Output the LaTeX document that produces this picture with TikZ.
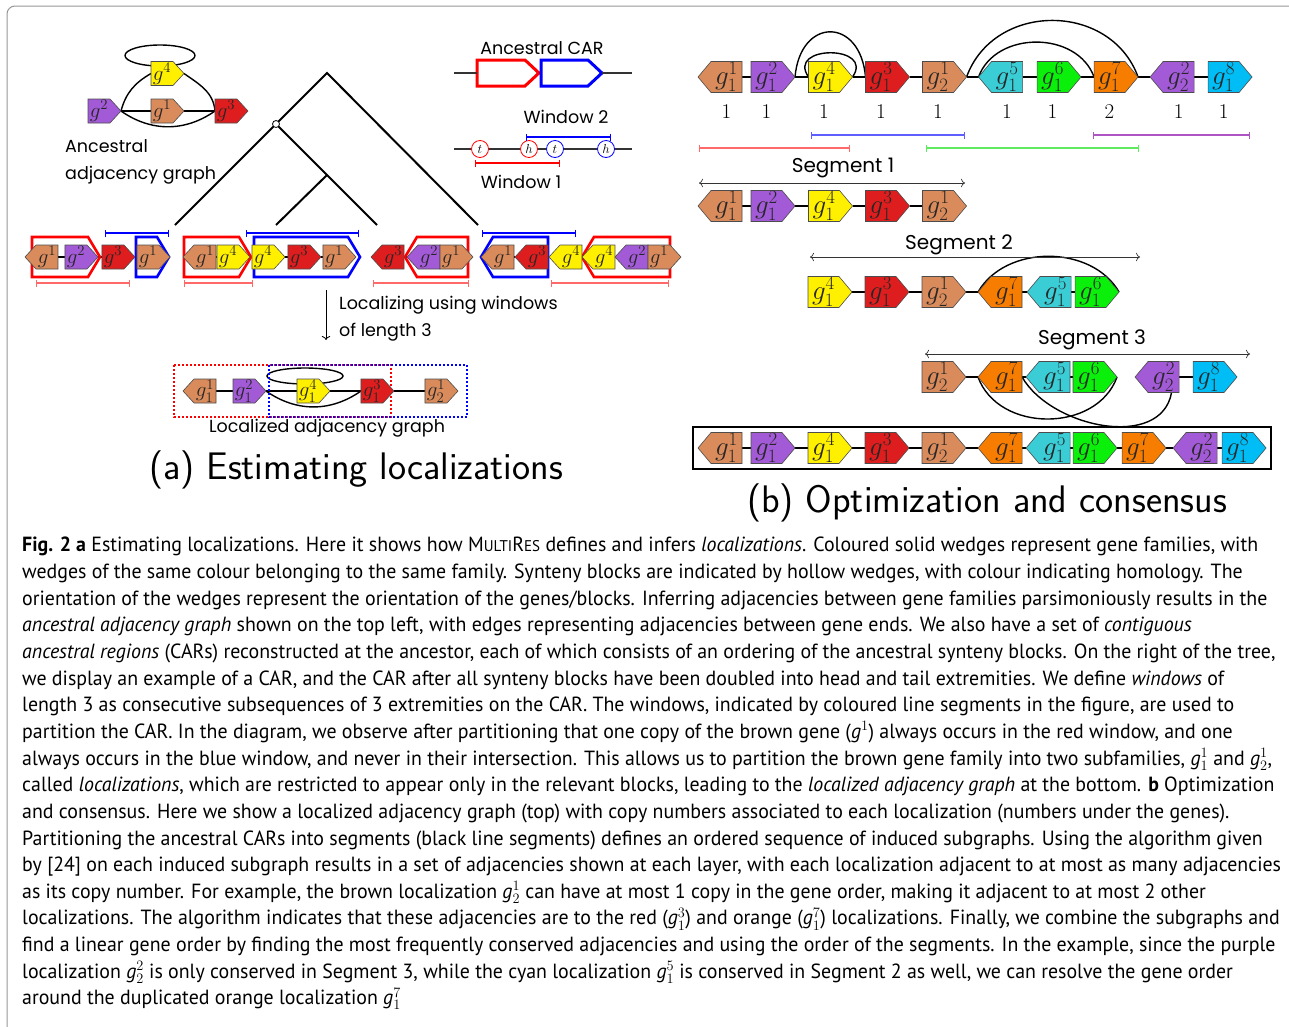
\RequirePackage{fix-cm}
\documentclass[tikz,border=0pt]{standalone}
\usepackage{fontspec}
\usepackage{tikz}
\usetikzlibrary{positioning, arrows.meta, fit, backgrounds, shapes.symbols, calc}

\newfontfamily\diagfont{Poppins}
\newfontfamily\capfont{PT Sans}[FakeStretch=0.97]

\definecolor{gbrown}{RGB}{217,139,92}
\definecolor{gpurple}{RGB}{163,90,214}
\definecolor{gred}{RGB}{222,30,30}
\definecolor{gyellow}{RGB}{255,240,0}
\definecolor{gcyan}{RGB}{58,205,214}
\definecolor{ggreen}{RGB}{10,240,10}
\definecolor{gorange}{RGB}{247,125,0}
\definecolor{gsky}{RGB}{0,190,245}
\definecolor{wred}{RGB}{255,105,105}
\definecolor{wblue}{RGB}{95,95,255}
\definecolor{wgreen}{RGB}{95,235,95}
\definecolor{wpurple}{RGB}{175,85,195}
\definecolor{framegray}{RGB}{150,150,150}

\begin{document}
\begin{tikzpicture}[
    x=1pt, y=-1pt,
    node distance=13pt,
    gene/.style={signal, signal to=#1, draw=black!70, line width=0.6pt, inner sep=0pt, outer sep=0pt, align=center, text=black!85},
    ga/.style={gene=#1, text width=22pt, minimum height=24pt, signal pointer angle=95, font=\fontsize{21}{21}\selectfont},
    gb/.style={gene=#1, text width=31pt, minimum height=31pt, signal pointer angle=100, font=\fontsize{27}{27}\selectfont},
    block/.style={signal, signal to=#1, inner sep=0pt, outer sep=0pt, line width=2.6pt, minimum height=40pt, signal pointer angle=118},
    carblock/.style={signal, signal to=east, fill=white, inner sep=0pt, outer sep=0pt, line width=3pt, minimum height=26pt, signal pointer angle=86},
    ext/.style={circle, draw=#1, fill=white, line width=0.8pt, minimum size=17pt, inner sep=0pt, font=\fontsize{13}{13}\selectfont},
    link/.style={line width=1.4pt},
    win/.style={arrows={Bar[width=7pt]-Bar[width=7pt]}, line width=1.1pt, draw=#1},
    seg/.style={arrows={To[length=4pt]-To[length=4pt]}, line width=0.7pt, draw=black!80},
    txt/.style={font=\diagfont\fontsize{17.5}{27}\selectfont, inner sep=0pt, align=left},
    segtxt/.style={font=\diagfont\fontsize{20}{20}\selectfont, inner sep=0pt},
    num/.style={font=\fontsize{21}{21}\selectfont, inner sep=0pt},
    branch/.style={line width=2pt},
    title/.style={font=\sffamily\fontsize{38.4}{38.4}\selectfont, inner sep=0pt},
]
\useasboundingbox (0,0) rectangle (1289,1026);
\draw[framegray, line width=1pt, rounded corners=8pt] (7,1200) -- (7,6) -- (1400,6);

% ancestral adjacency graph
\node[ga=east, fill=gyellow, anchor=west] (p4) at (151,73.5) {$g^4$};
\node[ga=east, fill=gpurple, anchor=west] (p2) at (88,111) {$g^2$};
\node[ga=east, fill=gbrown, anchor=west] (p1) at (151,111) {$g^1$};
\node[ga=east, fill=gred, anchor=west] (p3) at (215,111) {$g^3$};
\begin{scope}[on background layer]
\draw[link] (p4) ++(-2,-18) ellipse [x radius=35pt, y radius=10.5pt];
\draw[link] (p2.east) -- (p1.west) (p1.east) -- (p3.west);
\draw[link] (p2.east) to[out=75, in=-150] (p4.west);
\draw[link] (p4.east) to[out=-35, in=95] (p3.west);
\draw[link] (p2.east) to[out=-35, in=-145] (p3.west);
\end{scope}
\node[txt, anchor=west] (anclabel) at (65,161.5) {Ancestral\\adjacency graph};

% tree
\coordinate (root) at (327,73);
\coordinate (anc) at (276,124);
\coordinate (mid) at (327,175);
\coordinate (lf1) at (175,225);
\coordinate (lf2) at (276,225);
\coordinate (lf3) at (377,225);
\coordinate (lf4) at (478,225);
\draw[branch] (lf1) -- (anc) -- (root) -- (lf4);
\draw[branch] (anc) -- (mid) (mid) -- (lf2) (mid) -- (lf3);
\node[circle, draw, fill=white, inner sep=0pt, minimum size=7pt, line width=0.8pt] (ancdot) at (anc) {};

% ancestral CAR and windows
\node[txt] (cartitle) at (542,48) {Ancestral CAR};
\coordinate (carL) at (454,73);
\coordinate (carR) at (632,73);
\node[carblock, draw=red, text width=48pt, anchor=west] (carA) at (477,73) {};
\node[carblock, draw=blue, text width=47pt, anchor=west] (carB) at (541,73) {};
\draw[line width=1.2pt, black!80] (carL) -- (carA.west) (carB.east) -- (carR);
\node[ext=red] (xt1) at (480,149) {$t$};
\node[ext=red] (xh1) at (529,149) {$h$};
\node[ext=blue] (xt2) at (555,149) {$t$};
\node[ext=blue] (xh2) at (606,149) {$h$};
\coordinate (extL) at (454,149);
\coordinate (extR) at (632,149);
\begin{scope}[on background layer]
\draw[line width=1.2pt, black!80] (extL) -- (extR);
\end{scope}
\draw[win=blue] (526,137) -- (611,137);
\draw[win=red] (475,163) -- (560,163);
\node[txt] (win2) at (566,117) {Window 2};
\node[txt] (win1) at (521,182) {Window 1};

% leaf genomes: hollow blocks
\node[block=east, draw=red, text width=56pt, anchor=west] (r1) at (32,257) {};
\node[block=east, draw=blue, text width=21pt, anchor=west] (bl1) at (136,257) {};
\node[block=east, draw=red, text width=55pt, anchor=west] (r2) at (184,257) {};
\node[block=east, draw=blue, text width=94pt, anchor=west] (bl2) at (254,257) {};
\node[block=west, draw=red, text width=51pt, anchor=east] (r3) at (468,257) {};
\node[block=west, draw=blue, text width=55pt, anchor=east] (bl4) at (548,257) {};
\node[block=west, draw=red, text width=76pt, anchor=east] (r4) at (670,257) {};

% leaf genomes: genes
\node[ga=west, fill=gbrown, anchor=west] (l11) at (25,257) {$g^1$};
\node[ga=east, fill=gpurple, right=7pt of l11] (l12) {$g^2$};
\node[ga=east, fill=gred, right=4pt of l12] (l13) {$g^3$};
\node[ga=east, fill=gbrown, right=2pt of l13] (l14) {$g^1$};

\node[ga=west, fill=gbrown, anchor=west] (l21) at (183,257) {$g^1$};
\node[ga=east, fill=gyellow, right=1pt of l21] (l22) {$g^4$};
\node[ga=east, fill=gyellow, right=2pt of l22] (l23) {$g^4$};
\node[ga=east, fill=gred, right=3pt of l23] (l24) {$g^3$};
\node[ga=east, fill=gbrown, right=2pt of l24] (l25) {$g^1$};

\node[ga=west, fill=gred, anchor=west] (l31) at (371,257) {$g^3$};
\node[ga=west, fill=gpurple, right=3pt of l31] (l32) {$g^2$};
\node[ga=east, fill=gbrown, right=0pt of l32] (l33) {$g^1$};

\node[ga=west, fill=gbrown, anchor=west] (l41) at (481,257) {$g^1$};
\node[ga=west, fill=gred, right=1pt of l41] (l42) {$g^3$};
\node[ga=west, fill=gyellow, right=1pt of l42] (l43) {$g^4$};
\node[ga=west, fill=gyellow, right=0pt of l43] (l44) {$g^4$};
\node[ga=west, fill=gpurple, right=0pt of l44] (l45) {$g^2$};
\node[ga=east, fill=gbrown, right=0pt of l45] (l46) {$g^1$};

\begin{scope}[on background layer]
\foreach \a/\b in {l11/l12, l12/l13, l13/l14, l21/l22, l22/l23, l23/l24, l24/l25,
                   l31/l32, l32/l33, l41/l42, l42/l43, l43/l44, l44/l45, l45/l46}
  \draw[link] (\a.east) -- (\b.west);
\end{scope}

% windows on the leaves
\draw[win=wred] (36,283) -- (130,283);
\draw[win=blue] (105,233) -- (169,233);
\draw[win=wred] (184,283) -- (253,283);
\draw[win=blue] (246,233) -- (359,233);
\draw[win=wred] (373,283) -- (469,283);
\draw[win=blue] (482,233) -- (576,233);
\draw[win=wred] (551,283) -- (669,283);

% localizing step
\coordinate (locA) at (326,290);
\coordinate (locB) at (326,340);
\draw[-{To[length=4pt]}, line width=0.8pt] (locA) -- (locB);
\node[txt, anchor=west] (loctext) at (339,318.5) {Localizing using windows\\of length 3};

% localized adjacency graph
\draw[red, line width=2pt, dotted] (174,365) rectangle (391,417);
\draw[blue, line width=2pt, dotted] (269,365) rectangle (467,417);
\node[ga=west, fill=gbrown, anchor=west] (m1) at (183,391) {$g^1_1$};
\node[ga=east, fill=gpurple, right=17pt of m1] (m2) {$g^2_1$};
\node[ga=east, fill=gyellow, right=31pt of m2] (m3) {$g^4_1$};
\node[ga=east, fill=gred, right=31pt of m3] (m4) {$g^3_1$};
\node[ga=east, fill=gbrown, right=31pt of m4] (m5) {$g^1_2$};
\begin{scope}[on background layer]
\draw[link] (m1.east) -- (m2.west) (m2.east) -- (m3.west) (m3.east) -- (m4.west) (m4.east) -- (m5.west);
\draw[link] (m3) ++(-3,-15) ellipse [x radius=38pt, y radius=8pt];
\draw[link] (m2.east) to[out=-35, in=-145] (m4.west);
\end{scope}
\node[txt] (loclabel) at (327,428) {Localized adjacency graph};

\node[title] (titlea) at (356,470) {(a) Estimating localizations};

% (b) localized graph with copy numbers
\node[gb=west, fill=gbrown, anchor=west] (t1) at (698,77) {$g^1_1$};
\node[gb=east, fill=gpurple, right=9pt of t1] (t2) {$g^2_1$};
\node[gb=east, fill=gyellow, right=13.5pt of t2] (t3) {$g^4_1$};
\node[gb=east, fill=gred, right=13pt of t3] (t4) {$g^3_1$};
\node[gb=east, fill=gbrown, right=13pt of t4] (t5) {$g^1_2$};
\node[gb=west, fill=gcyan, right=12pt of t5] (t6) {$g^5_1$};
\node[gb=east, fill=ggreen, right=14.5pt of t6] (t7) {$g^6_1$};
\node[gb=east, fill=gorange, right=13pt of t7] (t8) {$g^7_1$};
\node[gb=west, fill=gpurple, right=12pt of t8] (t9) {$g^2_2$};
\node[gb=east, fill=gsky, right=14pt of t9] (t10) {$g^8_1$};
\foreach \g/\c in {t1/1, t2/1, t3/1, t4/1, t5/1, t6/1, t7/1, t8/2, t9/1, t10/1}
  \node[num] at ([yshift=-35]\g.center) {\c};
\begin{scope}[on background layer]
\foreach \a/\b in {t1/t2, t2/t3, t3/t4, t4/t5, t5/t6, t6/t7, t7/t8, t8/t9, t9/t10}
  \draw[link] (\a.east) -- (\b.west);
\draw[link] (t2.east) to[out=85, in=95, looseness=2.2] (t4.west);
\draw[link] (t3.west) to[out=125, in=55, looseness=2.3] (t3.east);
\draw[link] (t5.east) to[out=70, in=110, looseness=1.2] (t8.east);
\draw[link] (t6.west) to[out=70, in=110, looseness=1.1] (t8.west);
\end{scope}
\draw[win=wblue] (811,135) -- (965,135);
\draw[win=wred] (699,148) -- (850,148);
\draw[win=wgreen] (926,148) -- (1139,148);
\draw[win=wpurple] (1093,135) -- (1250,135);

% segment 1
\node[segtxt] (seg1) at (843,168) {Segment 1};
\draw[seg] (699,183) -- (965,183);
\node[gb=west, fill=gbrown, anchor=west] (a1) at (698,206) {$g^1_1$};
\node[gb=east, fill=gpurple, right=9pt of a1] (a2) {$g^2_1$};
\node[gb=east, fill=gyellow, right=13.5pt of a2] (a3) {$g^4_1$};
\node[gb=east, fill=gred, right=13pt of a3] (a4) {$g^3_1$};
\node[gb=east, fill=gbrown, right=13pt of a4] (a5) {$g^1_2$};
\begin{scope}[on background layer]
\foreach \a/\b in {a1/a2, a2/a3, a3/a4, a4/a5}
  \draw[link] (\a.east) -- (\b.west);
\end{scope}

% segment 2
\node[segtxt] (seg2) at (959,245) {Segment 2};
\draw[seg] (810,257) -- (1140,257);
\node[gb=east, fill=gyellow, anchor=west] (b1) at (808,292) {$g^4_1$};
\node[gb=east, fill=gred, right=13pt of b1] (b2) {$g^3_1$};
\node[gb=east, fill=gbrown, right=13pt of b2] (b3) {$g^1_2$};
\node[gb=west, fill=gorange, right=12pt of b3] (b4) {$g^7_1$};
\node[gb=west, fill=gcyan, right=5pt of b4] (b5) {$g^5_1$};
\node[gb=east, fill=ggreen, right=4pt of b5] (b6) {$g^6_1$};
\begin{scope}[on background layer]
\foreach \a/\b in {b1/b2, b2/b3, b3/b4, b4/b5, b5/b6}
  \draw[link] (\a.east) -- (\b.west);
\draw[link] (b4.west) to[out=60, in=120] (b6.east);
\end{scope}

% segment 3
\node[segtxt] (seg3) at (1092,340) {Segment 3};
\draw[seg] (925,354) -- (1250,354);
\node[gb=east, fill=gbrown, anchor=west] (c1) at (922,377) {$g^1_2$};
\node[gb=west, fill=gorange, right=12pt of c1] (c2) {$g^7_1$};
\node[gb=west, fill=gcyan, right=4pt of c2] (c3) {$g^5_1$};
\node[gb=east, fill=ggreen, right=3pt of c3] (c4) {$g^6_1$};
\node[gb=west, fill=gpurple, right=18pt of c4] (c5) {$g^2_2$};
\node[gb=east, fill=gsky, right=14pt of c5] (c6) {$g^8_1$};
\begin{scope}[on background layer]
\foreach \a/\b in {c1/c2, c2/c3, c3/c4, c5/c6}
  \draw[link] (\a.east) -- (\b.west);
\draw[link] (c2.west) to[out=-70, in=-110, looseness=1.1] (c4.east);
\draw[link] (c2.east) to[out=-60, in=-100] ([xshift=8]c5.south);
\end{scope}

% consensus order
\node[gb=west, fill=gbrown, anchor=west] (d1) at (698,448) {$g^1_1$};
\node[gb=east, fill=gpurple, right=9pt of d1] (d2) {$g^2_1$};
\node[gb=east, fill=gyellow, right=13pt of d2] (d3) {$g^4_1$};
\node[gb=east, fill=gred, right=13pt of d3] (d4) {$g^3_1$};
\node[gb=east, fill=gbrown, right=13pt of d4] (d5) {$g^1_2$};
\node[gb=west, fill=gorange, right=12pt of d5] (d6) {$g^7_1$};
\node[gb=west, fill=gcyan, right=4pt of d6] (d7) {$g^5_1$};
\node[gb=east, fill=ggreen, right=3pt of d7] (d8) {$g^6_1$};
\node[gb=east, fill=gorange, right=5pt of d8] (d9) {$g^7_1$};
\node[gb=west, fill=gpurple, right=7pt of d9] (d10) {$g^2_2$};
\node[gb=east, fill=gsky, right=5pt of d10] (d11) {$g^8_1$};
\begin{scope}[on background layer]
\foreach \a/\b in {d1/d2, d2/d3, d3/d4, d4/d5, d5/d6, d6/d7, d7/d8, d8/d9, d9/d10, d10/d11}
  \draw[link] (\a.east) -- (\b.west);
\end{scope}
\node[draw, line width=2.5pt, fit=(d1)(d11), inner xsep=5pt, inner ysep=5.5pt] (consensus) {};

\node[title] (titleb) at (987,503) {(b) Optimization and consensus};

% caption
\node[anchor=north west, inner sep=0pt, align=left, font=\capfont\fontsize{20.5}{26.65}\selectfont] (caption) at (22,537) {%
\textbf{Fig. 2 a} Estimating localizations. Here it shows how M{\fontsize{15.5}{15}\selectfont ULTI}R{\fontsize{15.5}{15}\selectfont ES} defines and infers \textit{localizations}. Coloured solid wedges represent gene families, with\\
wedges of the same colour belonging to the same family. Synteny blocks are indicated by hollow wedges, with colour indicating homology. The\\
orientation of the wedges represent the orientation of the genes/blocks. Inferring adjacencies between gene families parsimoniously results in the\\
\textit{ancestral adjacency graph} shown on the top left, with edges representing adjacencies between gene ends. We also have a set of \textit{contiguous}\\
\textit{ancestral regions} (CARs) reconstructed at the ancestor, each of which consists of an ordering of the ancestral synteny blocks. On the right of the tree,\\
we display an example of a CAR, and the CAR after all synteny blocks have been doubled into head and tail extremities. We define \textit{windows} of\\
length 3 as consecutive subsequences of 3 extremities on the CAR. The windows, indicated by coloured line segments in the figure, are used to\\
partition the CAR. In the diagram, we observe after partitioning that one copy of the brown gene (\textit{g}$^1$) always occurs in the red window, and one\\
always occurs in the blue window, and never in their intersection. This allows us to partition the brown gene family into two subfamilies, \textit{g}$^1_1$ and \textit{g}$^1_2$,\\
called \textit{localizations}, which are restricted to appear only in the relevant blocks, leading to the \textit{localized adjacency graph} at the bottom. \textbf{b} Optimization\\
and consensus. Here we show a localized adjacency graph (top) with copy numbers associated to each localization (numbers under the genes).\\
Partitioning the ancestral CARs into segments (black line segments) defines an ordered sequence of induced subgraphs. Using the algorithm given\\
by [24] on each induced subgraph results in a set of adjacencies shown at each layer, with each localization adjacent to at most as many adjacencies\\
as its copy number. For example, the brown localization \textit{g}$^1_2$ can have at most 1 copy in the gene order, making it adjacent to at most 2 other\\
localizations. The algorithm indicates that these adjacencies are to the red (\textit{g}$^3_1$) and orange (\textit{g}$^7_1$) localizations. Finally, we combine the subgraphs and\\
find a linear gene order by finding the most frequently conserved adjacencies and using the order of the segments. In the example, since the purple\\
localization \textit{g}$^2_2$ is only conserved in Segment 3, while the cyan localization \textit{g}$^5_1$ is conserved in Segment 2 as well, we can resolve the gene order\\
around the duplicated orange localization \textit{g}$^7_1$};
\end{tikzpicture}
\end{document}
